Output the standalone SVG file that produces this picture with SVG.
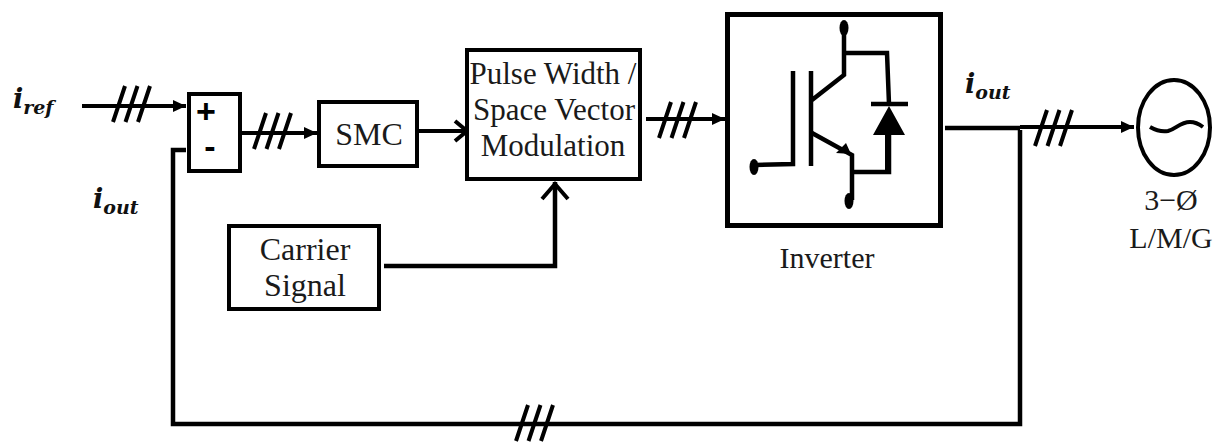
<svg xmlns="http://www.w3.org/2000/svg" width="1214" height="445" viewBox="0 0 1214 445">
<defs>
<marker id="ah" markerUnits="userSpaceOnUse" markerWidth="14" markerHeight="14" refX="13" refY="7" orient="auto"><path d="M0,1L13,7L0,13Z" fill="#000"/></marker>
<marker id="oh" markerUnits="userSpaceOnUse" markerWidth="20" markerHeight="24" refX="17" refY="12" orient="auto"><path d="M4,2L16,12L4,22" fill="none" stroke="#000" stroke-width="4"/></marker>
<path id="t" d="M12,0L0,36M24.500,0L12.500,36M37,0L25,36" fill="none" stroke="#000" stroke-width="4"/>
</defs>
<style>
.b{fill:#fff;stroke:#000;stroke-width:4px}
.k{fill:none;stroke:#000;stroke-width:4px}
.w{fill:none;stroke:#000;stroke-width:4.500px}
text{font-family:"Liberation Serif",serif;font-size:31px;fill:#1a1a1a;text-anchor:middle}
.m{font-family:"DejaVu Serif",serif;font-style:italic;font-weight:bold;font-size:27px;fill:#111;text-anchor:start}
.s{font-size:19px}
.sa{font-family:"Liberation Sans",sans-serif;font-weight:bold;font-size:34px;fill:#000}
</style>
<g id="connectors">
<path class="k" marker-end="url(#ah)" d="M82,106H186"/>
<use href="#t" x="113" y="86"/>
<path class="k" marker-end="url(#ah)" d="M240,133H317"/>
<use href="#t" x="254" y="113"/>
<path class="k" marker-end="url(#oh)" d="M418,131H468"/>
<path class="k" marker-end="url(#ah)" d="M646,119H725"/>
<use href="#t" x="659" y="102"/>
<path class="w" d="M384,266H555V182"/>
<path class="k" d="M542,199L555,184L568,199"/>
<path class="w" d="M945,128H1020"/>
<path class="k" marker-end="url(#ah)" d="M1020,127H1134"/>
<use href="#t" x="1035" y="110"/>
<path class="w" d="M1020,130V424H173V150H186"/>
<use href="#t" x="516" y="405"/>
</g>
<g id="sum"><rect class="b" x="189" y="94" width="51" height="77"/><text class="sa" x="206" y="123">+</text><text class="sa" x="210" y="158">-</text></g>
<g id="smc"><rect class="b" x="319" y="102" width="98" height="64"/><text x="369" y="145" font-size="32" style="font-size:32px">SMC</text></g>
<g id="pwm"><rect class="b" x="467" y="50" width="173" height="129"/>
<text x="553" y="84">Pulse Width /</text><text x="554" y="120">Space Vector</text><text x="553" y="156">Modulation</text></g>
<g id="carrier"><rect class="b" x="229" y="226" width="150" height="83"/><text x="305" y="260" style="font-size:32px">Carrier</text><text x="305" y="296" style="font-size:32px">Signal</text></g>
<g id="inverter"><rect class="b" x="727.500" y="14.500" width="213" height="211" style="stroke-width:5px"/>
<g fill="none" stroke="#000" stroke-width="4.500">
<path d="M844,30V75L812,100M811,71V166M793,71V164L754,165"/>
<path d="M844,53H887L889,104M812,133L852,155V200M852,172H889V130"/>
<path d="M871,104H908"/>
<path d="M888,172V130" stroke-width="6"/>
</g>
<path d="M873,135L889,106L905,135Z M836,153L851,154L846,143Z"/>
<ellipse cx="844" cy="28" rx="4.500" ry="8"/><ellipse cx="754" cy="167" rx="4.500" ry="8"/><ellipse cx="849" cy="201" rx="4.500" ry="8"/>
<text x="827" y="268" style="font-size:30px">Inverter</text></g>
<g id="load"><ellipse class="b" cx="1174" cy="127.500" rx="36" ry="47.500"/><path class="k" d="M1150,127C1157,131 1163,132 1168,131C1176,129 1180,122 1190,122C1195,122 1199,124 1203,127"/>
<text x="1171" y="210" style="font-size:30px">3−Ø</text><text x="1171" y="248" style="font-size:30px">L/M/G</text></g>
<g id="labels">
<text class="m" x="13" y="108">i<tspan class="s" dy="6">ref</tspan></text>
<text class="m" x="93" y="208">i<tspan class="s" dy="6">out</tspan></text>
<text class="m" x="965" y="93">i<tspan class="s" dy="6">out</tspan></text>
</g>
</svg>
